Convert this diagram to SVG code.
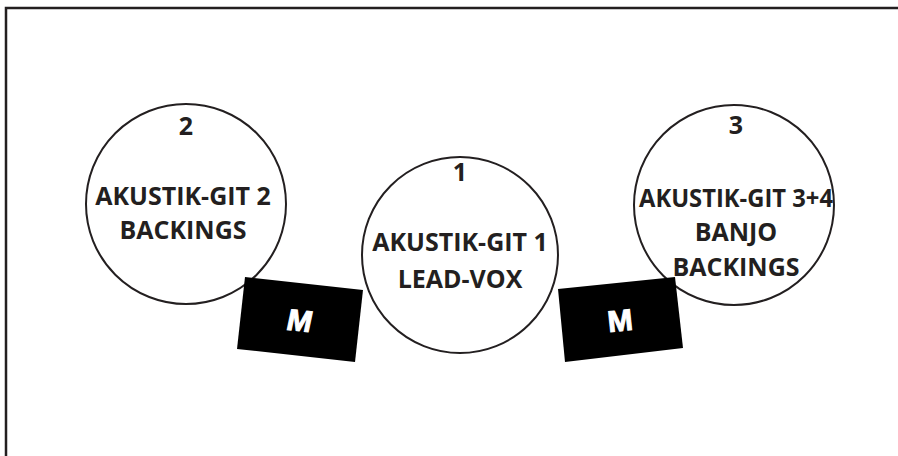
<svg xmlns="http://www.w3.org/2000/svg" width="898" height="456" viewBox="0 0 898 456">
<style>
.ring{fill:#fff;stroke:#231f20;stroke-width:2}
.t{font-family:"Open Sans","Liberation Sans",sans-serif;font-weight:bold;font-size:25px;fill:#231f20;text-anchor:middle}
.m{fill:#000}
.mt{font-family:"Liberation Sans",Arial,sans-serif;font-weight:bold;font-size:30px;fill:#fff;stroke:#fff;stroke-width:1;text-anchor:middle}
</style>
<rect width="898" height="456" fill="#fff"/>
<path d="M6 456 V8 H898" fill="none" stroke="#231f20" stroke-width="2.5"/>
<g id="node2">
<circle class="ring" cx="186" cy="204" r="100"/>
<text class="t" x="186" y="135">2</text>
<text class="t" x="183" y="205">AKUSTIK-GIT 2</text>
<text class="t" x="183" y="239">BACKINGS</text>
</g>
<g id="node3">
<circle class="ring" cx="734" cy="205" r="100"/>
<text class="t" x="736" y="134">3</text>
<text class="t" x="736" y="207" textLength="194" lengthAdjust="spacingAndGlyphs">AKUSTIK-GIT 3+4</text>
<text class="t" x="736" y="241">BANJO</text>
<text class="t" x="736" y="276">BACKINGS</text>
</g>
<g id="node1">
<circle class="ring" cx="460" cy="255" r="98"/>
<text class="t" x="460" y="181">1</text>
<text class="t" x="460" y="251">AKUSTIK-GIT 1</text>
<text class="t" x="460" y="288">LEAD-VOX</text>
</g>
<g id="mic1">
<polygon class="m" points="245,277 363,290 355,362 237,349"/>
<g transform="translate(300 320) rotate(6) skewX(-6)">
<text class="mt" x="0" y="11">M</text>
</g>
</g>
<g id="mic2">
<polygon class="m" points="558,289 675,277 683,348 565,362"/>
<g transform="translate(620 320) rotate(-6)">
<text class="mt" x="0" y="11">M</text>
</g>
</g>
<g id="connectors"/>
</svg>
